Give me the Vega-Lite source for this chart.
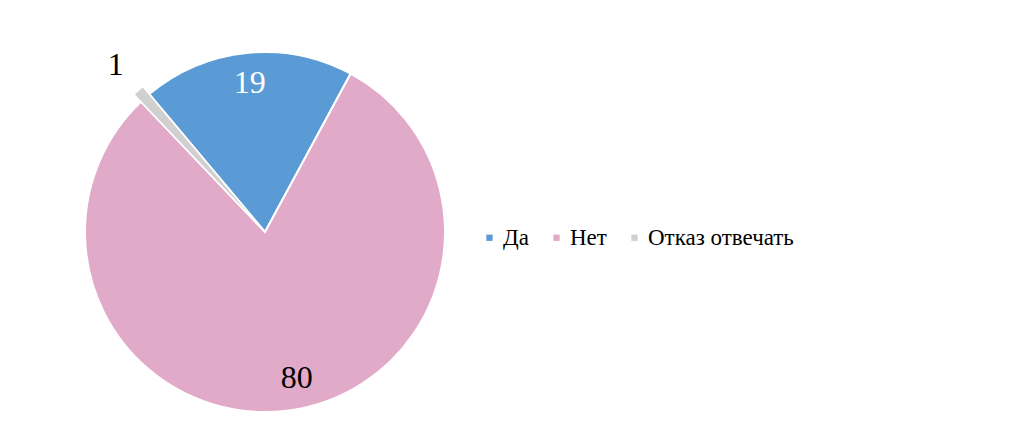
{
  "$schema": "https://vega.github.io/schema/vega-lite/v6.json",
  "autosize": "none",
  "width": 360,
  "height": 360,
  "padding": {"top": 52, "left": 85, "right": 579, "bottom": 9},
  "background": "white",
  "config": {"view": {"stroke": null}},
  "data": {"values": [
    {"answer": "Да", "value": 19, "n": 1},
    {"answer": "Нет", "value": 80, "n": 2},
    {"answer": "Отказ отвечать", "value": 1, "n": 3}
  ]},
  "encoding": {
    "theta": {"field": "value", "type": "quantitative", "stack": true, "scale": {"range": [-0.698, 5.585]}},
    "order": {"field": "n", "type": "quantitative"}
  },
  "layer": [
    {
      "mark": {"type": "arc", "radius": 180, "stroke": "white", "strokeWidth": 2},
      "encoding": {
        "color": {
          "field": "answer", "type": "nominal",
          "scale": {"domain": ["Да", "Нет", "Отказ отвечать"], "range": ["#5b9bd5", "#e2aac9", "#d0d0d0"]},
          "legend": {
            "orient": "none", "direction": "horizontal", "legendX": 393, "legendY": 174,
            "title": null, "symbolType": "square", "symbolSize": 40, "symbolStrokeWidth": 0,
            "labelFont": "Liberation Serif", "labelFontSize": 23, "labelColor": "#000000",
            "columnPadding": 16, "labelOffset": 2
          }
        },
        "opacity": {"condition": {"test": "datum.answer === 'Отказ отвечать'", "value": 0}, "value": 1}
      }
    },
    {
      "mark": {"type": "arc", "radius": 190, "radius2": 10, "stroke": "white", "strokeWidth": 1.5, "color": "#d0d0d0"},
      "encoding": {
        "opacity": {"condition": {"test": "datum.answer === 'Отказ отвечать'", "value": 1}, "value": 0}
      }
    },
    {
      "mark": {"type": "text", "radius": 150, "font": "Liberation Serif", "fontSize": 32, "baseline": "middle", "align": "center"},
      "encoding": {
        "text": {"field": "value", "type": "quantitative"},
        "color": {"value": "white"},
        "opacity": {"condition": {"test": "datum.answer === 'Да'", "value": 1}, "value": 0}
      }
    },
    {
      "mark": {"type": "text", "radius": 150, "font": "Liberation Serif", "fontSize": 32, "baseline": "middle", "align": "center", "color": "black", "dx": 12, "dy": -3},
      "encoding": {
        "text": {"field": "value", "type": "quantitative"},
        "opacity": {"condition": {"test": "datum.answer === 'Нет'", "value": 1}, "value": 0}
      }
    },
    {
      "mark": {"type": "text", "radius": 224, "font": "Liberation Serif", "fontSize": 32, "baseline": "middle", "align": "center", "color": "black"},
      "encoding": {
        "text": {"field": "value", "type": "quantitative"},
        "opacity": {"condition": {"test": "datum.answer === 'Отказ отвечать'", "value": 1}, "value": 0}
      }
    }
  ]
}
